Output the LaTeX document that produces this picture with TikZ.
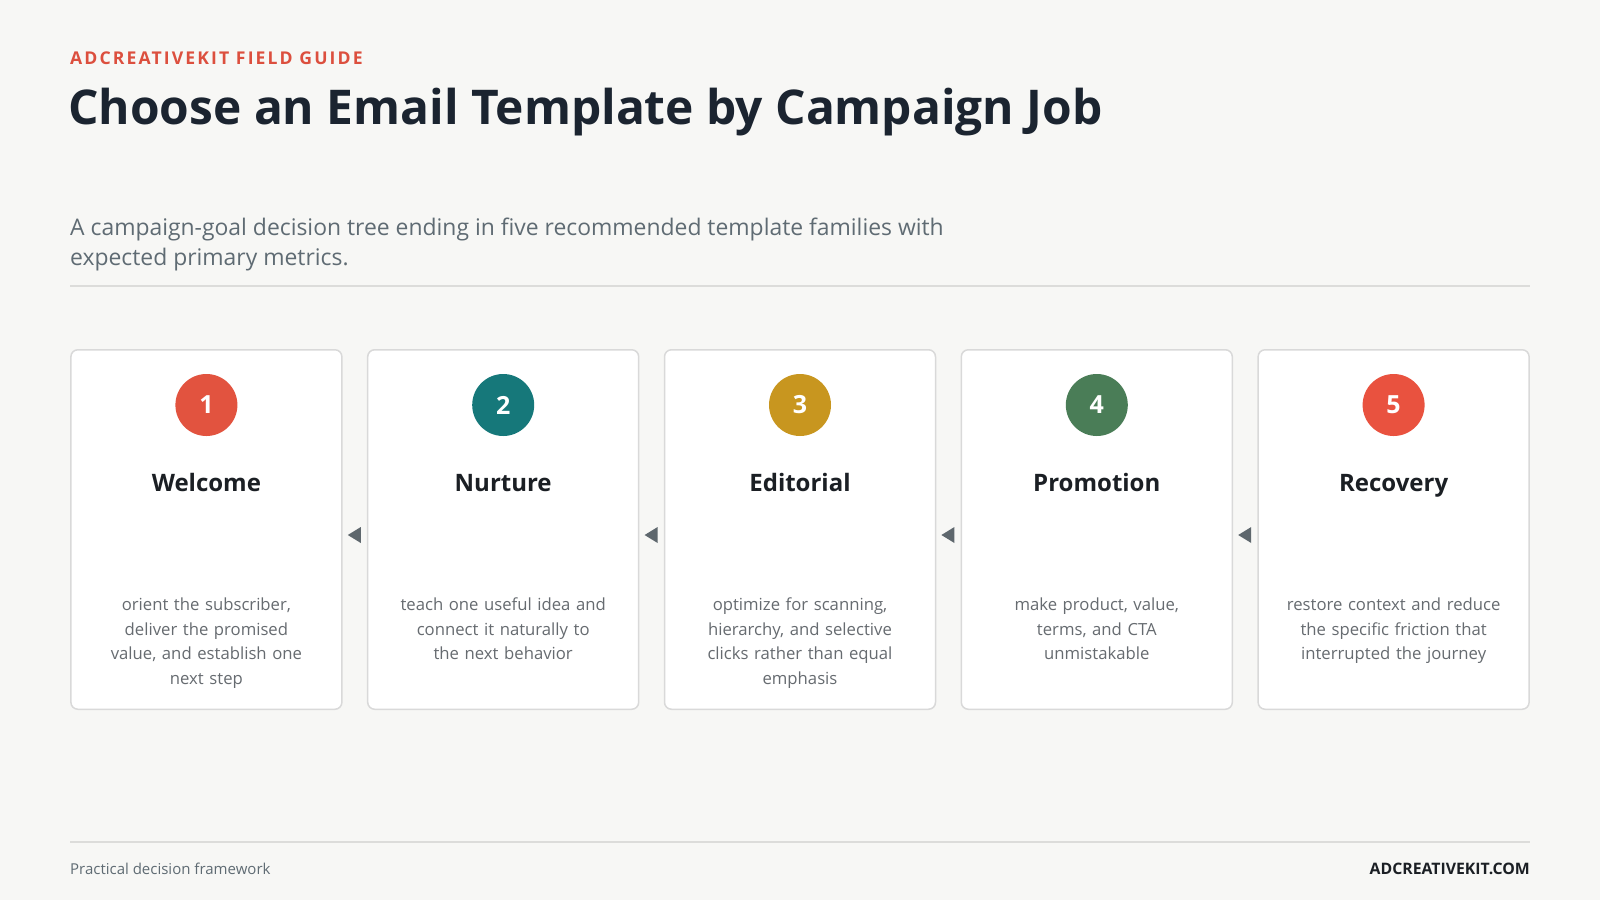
\documentclass[tikz,border=0pt]{standalone}
\usepackage{fontspec}
\setmainfont{Open Sans}
\usetikzlibrary{calc}
\definecolor{bgc}{HTML}{F7F7F5}
\definecolor{eyebrowc}{HTML}{DC4F3E}
\definecolor{titlec}{HTML}{1B2430}
\definecolor{subc}{HTML}{5F6B73}
\definecolor{rulec}{HTML}{DCDCDA}
\definecolor{borderc}{HTML}{D9D9D9}
\definecolor{cOne}{HTML}{E2533F}
\definecolor{cTwo}{HTML}{16787A}
\definecolor{cThree}{HTML}{C8961F}
\definecolor{cFour}{HTML}{4A7D57}
\definecolor{cFive}{HTML}{E9523F}
\definecolor{headc}{HTML}{1B1F24}
\definecolor{bodyc}{HTML}{666B70}
\definecolor{arrowc}{HTML}{5E676D}
\tikzset{
  card/.style={draw=borderc, line width=1.5pt, fill=white, rounded corners=7pt,
    minimum width=271pt, minimum height=359.5pt, inner sep=0pt},
  numdot/.style={circle, minimum size=62pt, inner sep=0pt, text=white,
    font=\fontsize{25}{25}\selectfont\bfseries},
  cardhead/.style={anchor=base, inner sep=0pt, text=headc,
    font=\fontsize{24}{24}\selectfont\bfseries},
  cardbody/.style={anchor=north, inner sep=0pt, text=bodyc, align=center,
    text width=250pt, font=\fontsize{16.7}{24.7}\selectfont},
  rulestyle/.style={draw=rulec, line width=2pt},
  tri/.style={fill=arrowc}
}
\begin{document}
\begin{tikzpicture}[x=1pt,y=-1pt]
\hyphenpenalty=10000
\fill[bgc] (0,0) rectangle (1600,900);
\useasboundingbox (0,0) rectangle (1600,900);
% header
\node[anchor=base west, inner sep=0pt, text=eyebrowc,
  font=\fontsize{17.6}{17.6}\selectfont\bfseries\addfontfeatures{LetterSpace=12}]
  (eyebrow) at (70,64.5) {ADCREATIVEKIT FIELD GUIDE};
\node[anchor=base west, inner sep=0pt, text=titlec,
  font=\fontsize{47.9}{48}\selectfont\bfseries]
  (title) at (68,124.5) {Choose an Email Template by Campaign Job};
\node[anchor=base west, inner sep=0pt, text=subc, align=left,
  font=\fontsize{22.9}{30.6}\selectfont]
  (subtitle) at (70,235) {A campaign-goal decision tree ending in five recommended template families with};
\node[anchor=base west, inner sep=0pt, text=subc,
  font=\fontsize{22.9}{30.6}\selectfont]
  (subtitle2) at (70,265.5) {expected primary metrics.};
\coordinate (r1a) at (70,286);
\coordinate (r1b) at (1530,286);
\draw[rulestyle] (r1a) -- (r1b);
% cards
\foreach \i/\col/\head/\body in {
  1/cOne/Welcome/{orient the subscriber,\\deliver the promised\\value, and establish one\\next step},
  2/cTwo/Nurture/{teach one useful idea and\\connect it naturally to\\the next behavior},
  3/cThree/Editorial/{optimize for scanning,\\hierarchy, and selective\\clicks rather than equal\\emphasis},
  4/cFour/Promotion/{make product, value,\\terms, and CTA\\unmistakable},
  5/cFive/Recovery/{restore context and reduce\\the specific friction that\\interrupted the journey}} {
  \pgfmathsetmacro{\cx}{206.4+(\i-1)*296.8}
  \node[card] (card\i) at (\cx,529.5) {};
  \node[numdot, fill=\col] (num\i) at (\cx,405) {\i};
  \node[cardhead] (head\i) at (\cx,491) {\head};
  \node[cardbody] (body\i) at (\cx,597.5) {\body};
}
% arrow tips between cards
\foreach \a/\b in {1/2,2/3,3/4,4/5} {
  \coordinate (m\a) at ($(card\a.east)!0.5!(card\b.west)+(0,5.5)$);
  \fill[tri] ($(m\a)+(-7,0)$) -- ($(m\a)+(6,-8)$) -- ($(m\a)+(6,8)$) -- cycle;
}
% footer
\coordinate (r2a) at (70,842);
\coordinate (r2b) at (1530,842);
\draw[rulestyle] (r2a) -- (r2b);
\node[anchor=base west, inner sep=0pt, text=subc, font=\fontsize{15}{15}\selectfont]
  (footl) at (70,874.5) {Practical decision framework};
\node[anchor=base east, inner sep=0pt, text=headc, font=\fontsize{15.8}{15.8}\selectfont\bfseries]
  (footr) at (1530,874.5) {ADCREATIVEKIT.COM};
\end{tikzpicture}
\end{document}
